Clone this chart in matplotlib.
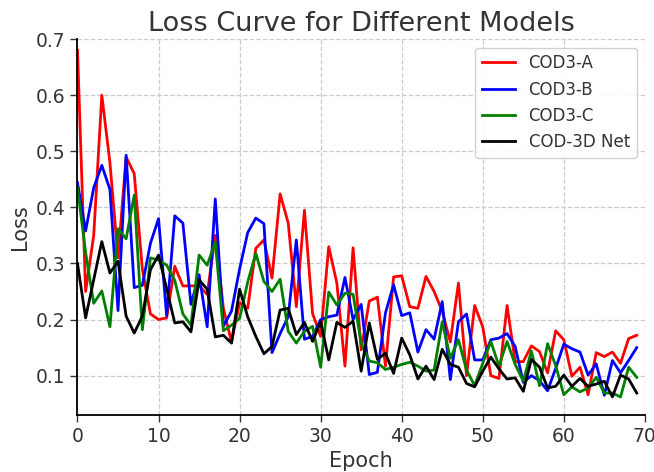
import matplotlib
matplotlib.use("Agg")
import matplotlib.pyplot as plt
import numpy as np

epochs = np.arange(70)

cod3_a = [0.68, 0.25, 0.35, 0.60, 0.48, 0.31, 0.49, 0.46, 0.29, 0.21,
          0.20, 0.203, 0.295, 0.26, 0.26, 0.26, 0.245, 0.35, 0.22, 0.16,
          0.23, 0.22, 0.327, 0.342, 0.274, 0.424, 0.372, 0.223, 0.395, 0.211,
          0.17, 0.33, 0.265, 0.117, 0.328, 0.146, 0.233, 0.24, 0.117, 0.276,
          0.278, 0.223, 0.22, 0.277, 0.25, 0.215, 0.16, 0.265, 0.10, 0.225,
          0.187, 0.10, 0.095, 0.225, 0.125, 0.125, 0.153, 0.143, 0.105, 0.18,
          0.164, 0.099, 0.115, 0.066, 0.141, 0.134, 0.142, 0.122, 0.166, 0.172]

cod3_b = [0.444, 0.358, 0.435, 0.475, 0.432, 0.216, 0.493, 0.257, 0.261, 0.336,
          0.38, 0.207, 0.385, 0.372, 0.227, 0.28, 0.187, 0.415, 0.188, 0.215,
          0.29, 0.355, 0.381, 0.371, 0.141, 0.175, 0.205, 0.342, 0.165, 0.17,
          0.20, 0.205, 0.208, 0.275, 0.20, 0.227, 0.102, 0.106, 0.212, 0.262,
          0.207, 0.212, 0.142, 0.182, 0.165, 0.232, 0.093, 0.196, 0.21, 0.128,
          0.128, 0.164, 0.167, 0.175, 0.152, 0.088, 0.10, 0.091, 0.073, 0.113,
          0.156, 0.148, 0.142, 0.101, 0.121, 0.065, 0.127, 0.105, 0.127, 0.15]

cod3_c = [0.435, 0.32, 0.229, 0.251, 0.187, 0.362, 0.344, 0.422, 0.182, 0.31,
          0.306, 0.297, 0.27, 0.21, 0.19, 0.315, 0.297, 0.338, 0.18, 0.19,
          0.202, 0.267, 0.318, 0.268, 0.25, 0.272, 0.179, 0.158, 0.179, 0.188,
          0.115, 0.249, 0.226, 0.247, 0.245, 0.158, 0.126, 0.123, 0.111, 0.115,
          0.12, 0.124, 0.117, 0.108, 0.11, 0.196, 0.131, 0.164, 0.11, 0.082,
          0.122, 0.161, 0.117, 0.161, 0.12, 0.09, 0.144, 0.082, 0.157, 0.118,
          0.066, 0.08, 0.071, 0.078, 0.097, 0.069, 0.069, 0.062, 0.115, 0.097]

cod_3d_net = [0.30, 0.203, 0.271, 0.339, 0.283, 0.304, 0.206, 0.176, 0.206, 0.289,
              0.315, 0.255, 0.194, 0.196, 0.178, 0.271, 0.254, 0.169, 0.172, 0.158,
              0.254, 0.205, 0.17, 0.139, 0.152, 0.217, 0.22, 0.173, 0.195, 0.161,
              0.196, 0.128, 0.195, 0.186, 0.197, 0.108, 0.194, 0.129, 0.14, 0.104,
              0.167, 0.137, 0.094, 0.117, 0.093, 0.147, 0.12, 0.115, 0.086, 0.08,
              0.108, 0.133, 0.112, 0.094, 0.096, 0.072, 0.129, 0.115, 0.078, 0.081,
              0.101, 0.081, 0.095, 0.081, 0.085, 0.09, 0.062, 0.101, 0.094, 0.069]

labels = ["COD3-A", "COD3-B", "COD3-C", "COD-3D Net"]
colors = ["red", "blue", "green", "black"]

plt.rcParams["text.color"] = "#333333"
plt.rcParams["axes.labelcolor"] = "#333333"
plt.rcParams["xtick.color"] = "#333333"
plt.rcParams["ytick.color"] = "#333333"

fig, ax = plt.subplots(figsize=(6.54, 4.72), dpi=100)
fig.subplots_adjust(left=0.1185, right=0.986, bottom=0.121, top=0.917)

for series, lab, col in zip([cod3_a, cod3_b, cod3_c, cod_3d_net], labels, colors):
    ax.plot(epochs, series, color=col, linewidth=2, label=lab)

ax.set_xlim(0, 70)
ax.set_ylim(0.03, 0.7)
ax.set_xticks(range(0, 71, 10))
ax.set_yticks([0.1, 0.2, 0.3, 0.4, 0.5, 0.6, 0.7])
ax.tick_params(labelsize=13.5, direction="out", length=5, width=1)
ax.grid(True, linestyle="--", color="#cccccc", linewidth=0.9)
ax.set_axisbelow(True)
ax.spines["top"].set_visible(False)
ax.spines["right"].set_visible(False)
ax.spines["left"].set_linewidth(1.3)
ax.spines["bottom"].set_linewidth(1.3)

ax.set_title("Loss Curve for Different Models", fontsize=19.5, pad=6)
ax.set_xlabel("Epoch", fontsize=15)
ax.set_ylabel("Loss", fontsize=15)
ax.legend(loc="upper right", fontsize=12, framealpha=0.9, edgecolor="#cccccc")

fig.savefig("out.png", dpi=100)
